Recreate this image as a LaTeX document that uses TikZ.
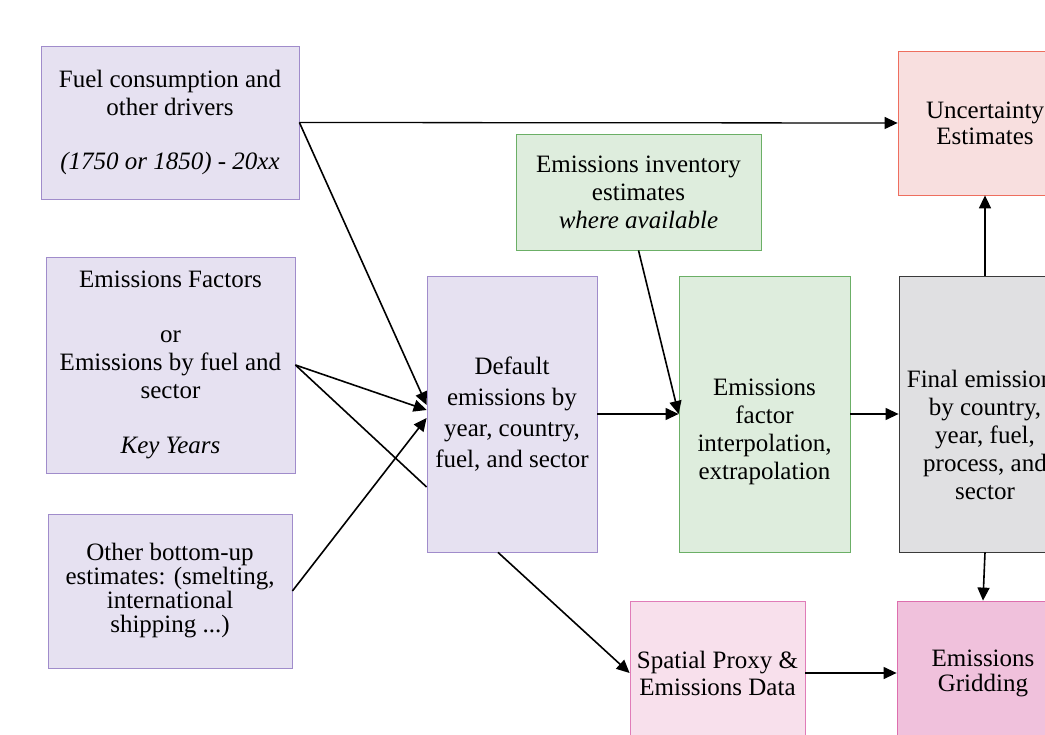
\documentclass[tikz,border=0pt]{standalone}
\usepackage{fontspec}
\setmainfont{Liberation Serif}
\usetikzlibrary{arrows.meta}

\definecolor{lavfill}{HTML}{E6E1F1}
\definecolor{lavline}{HTML}{A08CCB}
\definecolor{grnfill}{HTML}{DEEDDD}
\definecolor{grnline}{HTML}{6BAF66}
\definecolor{redfill}{HTML}{F8DFDF}
\definecolor{redline}{HTML}{EE6E5E}
\definecolor{gryfill}{HTML}{E0E0E2}
\definecolor{gryline}{HTML}{3A3A3A}
\definecolor{pnkfill}{HTML}{F8E0EC}
\definecolor{pnkline}{HTML}{E07CB8}
\definecolor{magfill}{HTML}{F0C1DC}
\definecolor{magline}{HTML}{DD6FAE}

\begin{document}
\begin{tikzpicture}[x=1pt, y=-1pt,
    box/.style={draw, line width=0.8pt, inner sep=0pt, align=center,
        font=\fontsize{25}{28}\selectfont},
    txt/.style={inner sep=0pt, align=center, font=\fontsize{25}{28}\selectfont},
    lav/.style={box, draw=lavline, fill=lavfill},
    grn/.style={box, draw=grnline, fill=grnfill},
    flow/.style={-{Triangle[length=13pt,width=12pt]}, line width=1.6pt}
]
    \useasboundingbox (0,0) rectangle (1045,735);
    \clip (0,0) rectangle (1045,735);

    % Inputs (left column)
    \node[lav, minimum width=258, minimum height=153] (fuel) at (170,122.5)
        {Fuel consumption and\\ other drivers\\[26pt] \textit{(1750 or 1850) - 20xx}};
    \node[lav, minimum width=249, minimum height=216] (factors) at (170.5,365)
        {Emissions Factors\\[27pt] or\\ Emissions by fuel and\\ sector\\[27pt] \textit{Key Years}};
    \node[lav, minimum width=244, minimum height=154,
        font=\fontsize{25}{24}\selectfont] (bottomup) at (170,591)
        {Other bottom-up\\ estimates: (smelting,\\ international\\ shipping ...)};

    % Middle
    \node[lav, minimum width=170, minimum height=276,
        font=\fontsize{25}{31}\selectfont] (default) at (512,414)
        {Default\\ emissions by\\ year, country,\\ fuel, and sector};
    \node[grn, minimum width=245, minimum height=116] (inventory) at (638.5,192)
        {Emissions inventory\\ estimates\\ \textit{where available}};
    \node[grn, minimum width=171, minimum height=276] (interp) at (764.5,414) {};
    \node[txt] (interptxt) at ([yshift=-18pt]interp.center)
        {Emissions\\ factor\\ interpolation,\\ extrapolation};

    % Outputs (right column)
    \node[box, draw=gryline, fill=gryfill, minimum width=172, minimum height=276]
        (final) at (985,414) {};
    \node[txt] (finaltxt) at ([yshift=-21pt]final.center)
        {Final emissions\\ by country,\\ year, fuel,\\ process, and\\ sector};
    \node[box, draw=redline, fill=redfill, minimum width=174, minimum height=144,
        font=\fontsize{25}{26}\selectfont] (uncert) at (985,123)
        {Uncertainty\\ Estimates};
    \node[box, draw=pnkline, fill=pnkfill, minimum width=175, minimum height=144,
        font=\fontsize{25}{27}\selectfont] (spatial) at (717.5,673)
        {Spatial Proxy \&\\ Emissions Data};
    \node[box, draw=magline, fill=magfill, minimum width=172, minimum height=144,
        font=\fontsize{25}{25}\selectfont] (grid) at (983,673)
        {Emissions\\ Gridding};

    % Connectors
    \draw[flow, line width=1.3pt] (fuel.east) -- (uncert.west);
    \draw[flow] (fuel.east) -- ([yshift=9pt]default.west);
    \draw[flow] (factors.east) -- ([yshift=4pt]default.west);
    \draw[line width=1.6pt] (factors.east) -- ([yshift=-73pt]default.west);
    \draw[flow] (bottomup.east) -- ([yshift=-4pt]default.west);
    \draw[flow, line width=1.3pt] (default.east) -- (interp.west);
    \draw[flow] (inventory.south) -- (interp.west);
    \draw[flow, line width=1.3pt] (interp.east) -- (final.west);
    \draw[flow] (final.north) -- (uncert.south);
    \draw[flow] (final.south) -- (grid.north);
    \draw[flow] ([xshift=-14pt]default.south) -- (spatial.west);
    \draw[flow, line width=1.3pt] (spatial.east) -- (grid.west);
\end{tikzpicture}
\end{document}
